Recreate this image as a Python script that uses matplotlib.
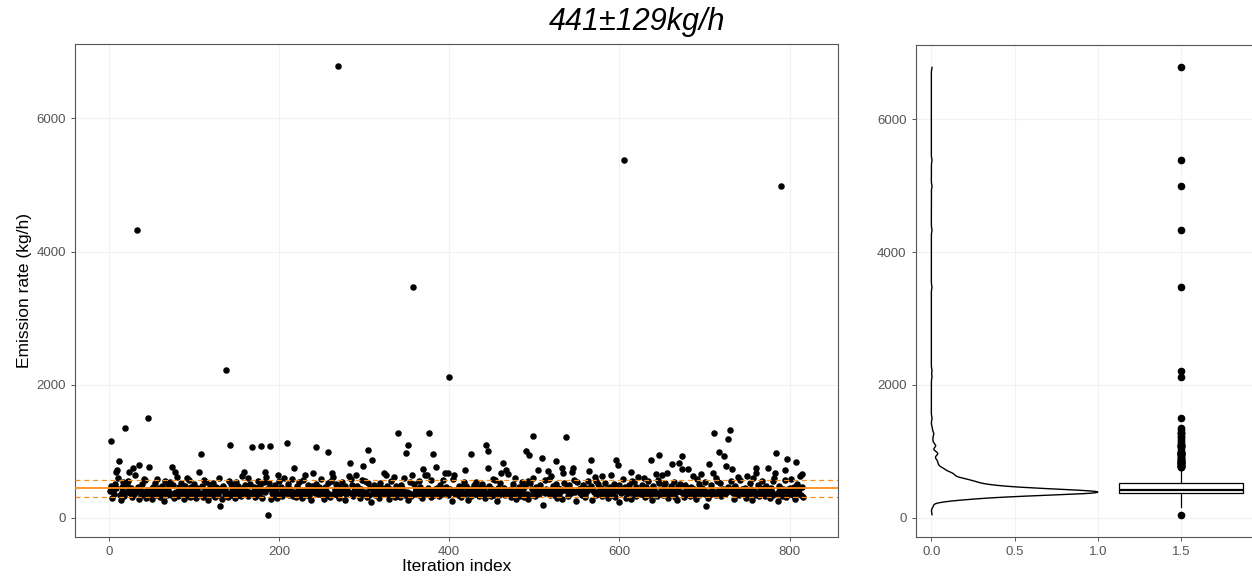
import numpy as np
import matplotlib
matplotlib.use('Agg')
import matplotlib.pyplot as plt

plt.rcParams['font.family'] = ['Liberation Sans', 'DejaVu Sans']

# bulk of the emission-rate samples (kg/h), one per iteration
base = [
    402, 336, 471, 298, 425, 361, 512, 388, 447, 374, 604, 415, 349, 263, 458, 391, 531, 327, 566, 382, 487, 409, 552, 308,
    379, 443, 315, 497, 356, 418, 640, 392, 331, 463, 371, 276, 429, 345, 508, 386, 583, 367, 562, 304, 411, 478, 395, 352,
    433, 358, 289, 466, 383, 521, 404, 341, 587, 376, 449, 312, 398, 485, 364, 427, 245, 548, 391, 338, 502, 419, 373, 541,
    347, 412, 492, 369, 299, 440, 385, 616, 326, 461, 397, 355, 527, 420, 378, 283, 474, 405, 343, 592, 389, 568, 317, 436,
    462, 381, 332, 507, 414, 366, 295, 445, 393, 659, 351, 428, 480, 374, 320, 571, 401, 545, 359, 271, 416, 387, 498, 340,
    390, 519, 357, 426, 307, 469, 382, 339, 594, 408, 365, 447, 278, 483, 396, 352, 431, 575, 371, 313, 556, 403, 344, 510,
    421, 368, 452, 290, 399, 536, 346, 476, 384, 414, 325, 627, 372, 441, 259, 491, 407, 361, 602, 334, 394, 515, 378, 438,
    354, 470, 397, 318, 444, 380, 558, 423, 341, 489, 367, 301, 410, 545, 385, 682, 333, 429, 362, 524, 395, 281, 448, 376,
    413, 345, 486, 370, 432, 297, 402, 547, 358, 463, 388, 322, 419, 601, 375, 440, 251, 395, 504, 349, 427, 383, 578, 330,
    386, 449, 363, 311, 478, 405, 350, 533, 424, 377, 292, 561, 398, 641, 342, 416, 369, 495, 328, 439, 391, 270, 472, 408,
    443, 373, 319, 501, 392, 356, 460, 413, 587, 338, 425, 381, 286, 468, 401, 347, 517, 435, 365, 310, 549, 389, 613, 360,
    371, 428, 503, 349, 396, 458, 303, 419, 366, 542, 387, 434, 266, 473, 354, 411, 390, 629, 337, 588, 380, 490, 323, 405,
    457, 392, 340, 481, 368, 420, 294, 438, 378, 566, 409, 352, 553, 387, 316, 528, 399, 343, 445, 240, 415, 372, 497, 433,
    339, 416, 370, 459, 305, 402, 525, 383, 448, 357, 671, 395, 424, 334, 479, 364, 279, 437, 410, 553, 351, 390, 607, 320,
    398, 476, 353, 427, 382, 314, 493, 441, 369, 409, 598, 345, 455, 391, 262, 417, 376, 538, 330, 544, 403, 358, 511, 385,
    430, 361, 402, 549, 337, 470, 393, 299, 421, 378, 485, 413, 351, 636, 444, 366, 405, 312, 569, 388, 520, 342, 426, 274,
    367, 451, 384, 326, 496, 410, 359, 437, 572, 394, 302, 468, 375, 418, 348, 506, 432, 381, 255, 586, 399, 609, 363, 423,
    408, 344, 472, 389, 431, 308, 461, 370, 534, 415, 356, 484, 396, 267, 440, 373, 653, 329, 426, 392, 499, 361, 541, 383,
    374, 435, 321, 463, 400, 356, 512, 388, 445, 291, 417, 377, 561, 343, 471, 406, 333, 429, 384, 581, 350, 574, 395, 246,
    451, 386, 347, 520, 412, 370, 296, 448, 398, 339, 475, 425, 662, 365, 403, 318, 439, 381, 508, 354, 596, 393, 277, 419,
    388, 460, 335, 414, 377, 543, 427, 306, 484, 401, 362, 552, 284, 395, 528, 346, 436, 372, 597, 411, 325, 469, 389, 353,
    424, 357, 491, 396, 442, 315, 405, 368, 571, 433, 381, 264, 580, 348, 417, 623, 390, 476, 336, 422, 379, 509, 300, 444,
    362, 438, 402, 289, 467, 376, 520, 415, 351, 454, 393, 331, 488, 428, 371, 687, 409, 344, 563, 385, 257, 532, 398, 431,
    409, 378, 455, 337, 494, 420, 363, 309, 441, 397, 558, 384, 432, 355, 475, 268, 416, 390, 606, 342, 547, 372, 512, 401,
    383, 446, 322, 472, 404, 359, 530, 391, 437, 297, 419, 366, 464, 645, 348, 428, 386, 503, 313, 590, 399, 374, 243, 488,
    436, 367, 410, 585, 341, 459, 392, 303, 426, 380, 499, 414, 355, 282, 558, 371, 536, 401, 334, 468, 388, 617, 358, 421,
    352, 429, 496, 375, 418, 311, 463, 396, 343, 548, 407, 382, 439, 272, 477, 364, 424, 389, 660, 327, 575, 400, 516, 369,
    417, 383, 339, 458, 395, 526, 366, 436, 294, 412, 354, 481, 403, 578, 377, 543, 320, 430, 391, 261, 469, 350, 504, 386,
    393, 454, 373, 317, 486, 421, 360, 441, 565, 384, 330, 470, 408, 633, 346, 427, 399, 287, 584, 378, 513, 336, 434, 404,
    443, 369, 412, 539, 351, 476, 387, 304, 449, 395, 361, 497, 422, 253, 438, 375, 592, 341, 551, 406, 383, 523, 329, 415,
    376, 433, 500, 357, 424, 385, 315, 467, 402, 344, 551, 420, 368, 446, 280, 482, 397, 363, 620, 411, 338, 567, 389, 429,
    425, 362, 448, 391, 301, 473, 408, 354, 518, 436, 373, 270, 598, 396, 345, 675, 417, 380, 489, 332, 443, 401, 560, 367,
    389, 441, 335, 480, 403, 369, 527, 418, 296, 452, 381, 344, 554, 599, 392, 426, 358, 248, 473, 410, 377, 506, 323, 437,
    400, 572, 372, 318, 491, 427, 355, 442, 579, 386, 409, 337, 470, 284, 416, 365, 514, 393, 432, 628, 348, 459, 381, 307,
]

# iterations that stand out from the band (index, value)
spike_idx = [2, 8, 10, 12, 19, 24, 28, 33, 35, 46, 47, 74, 78, 106, 108, 131, 138, 142, 159, 168,
             179, 185, 187, 189, 199, 209, 218, 240, 243, 258, 262, 269, 283, 291, 299, 305, 309, 326, 340, 349,
             352, 356, 357, 369, 371, 376, 381, 384, 395, 398, 400, 406, 418, 425, 443, 445, 446, 461, 463, 467,
             490, 494, 498, 504, 509, 510, 516, 525, 533, 534, 537, 546, 564, 566, 580, 596, 598, 605, 613, 629,
             637, 646, 650, 656, 662, 670, 673, 674, 681, 696, 702, 705, 710, 711, 717, 723, 725, 727, 730, 732,
             750, 761, 775, 783, 784, 790, 795, 797, 807, 815]
spike_val = [1150, 695, 720, 860, 1356, 695, 746, 4330, 796, 1497, 770, 770, 695, 695, 956, 170, 2215, 1096, 695, 1070,
             1081, 620, 48, 1081, 646, 1131, 746, 671, 1061, 981, 671, 6780, 821, 646, 781, 1021, 871, 646, 1271, 971,
             1096, 646, 3470, 731, 646, 1271, 961, 770, 671, 671, 2122, 646, 721, 961, 1096, 746, 996, 671, 821, 721,
             996, 946, 1236, 711, 896, 195, 696, 846, 746, 671, 1211, 746, 696, 861, 621, 871, 796, 5380, 695, 596,
             861, 946, 646, 671, 811, 821, 921, 731, 731, 656, 175, 811, 671, 1271, 981, 921, 781, 1182, 1321, 731,
             621, 746, 746, 671, 976, 4990, 721, 885, 835, 661]

mean_rate = 441
sd_rate = 129

values = np.array(base, dtype=float)
values[np.array(spike_idx) - 1] = spike_val
iters = np.arange(1, len(values) + 1)

fig = plt.figure(figsize=(12.52, 5.81), dpi=100)
ax1 = fig.add_axes([0.0599, 0.0757, 0.6094, 0.8485])
ax2 = fig.add_axes([0.7314, 0.0757, 0.2742, 0.8468])

lo, hi = values.min(), values.max()
ylim = (lo - 0.05 * (hi - lo), hi + 0.05 * (hi - lo))
n = len(values)

for ax in (ax1, ax2):
    ax.set_axisbelow(True)
    ax.grid(True, color='#f2f2f2', lw=0.8)
    for s in ax.spines.values():
        s.set_color('#555555')
        s.set_linewidth(0.8)
    ax.tick_params(colors='#555555', labelcolor='#555555', labelsize=9.5, length=3, width=0.7)
    ax.set_ylim(ylim)
    ax.set_yticks([0, 2000, 4000, 6000])

ax1.scatter(iters, values, s=22, color='black', linewidths=0, zorder=2)
ax1.axhline(mean_rate, color='#ff8c1a', lw=1.3, zorder=3)
ax1.axhline(mean_rate - sd_rate, color='#ff8c1a', lw=0.9, ls=(0, (4, 3)), zorder=3)
ax1.axhline(mean_rate + sd_rate, color='#ff8c1a', lw=0.9, ls=(0, (4, 3)), zorder=3)
ax1.set_xlim(1 - 0.05 * (n - 1), n + 0.05 * (n - 1))
ax1.set_xticks([0, 200, 400, 600, 800])
ax1.set_xlabel('Iteration index', fontsize=12.5, labelpad=1)
ax1.set_ylabel('Emission rate (kg/h)', fontsize=12.5, labelpad=3)

# scaled density (R nrd0 bandwidth), trimmed to data range
q1, q3 = np.percentile(values, [25, 75])
bw = 0.9 * min(values.std(ddof=1), (q3 - q1) / 1.34) * n ** -0.2
grid = np.linspace(lo, hi, 1024)
dens = np.exp(-0.5 * ((grid[:, None] - values[None, :]) / bw) ** 2).sum(axis=1)
dens = dens / dens.max()
ax2.plot(dens, grid, color='black', lw=1.0)

ax2.boxplot(values, positions=[1.5], widths=0.75, whis=1.5, patch_artist=True,
            boxprops=dict(facecolor='white', edgecolor='black', lw=0.9),
            medianprops=dict(color='black', lw=1.6),
            whiskerprops=dict(color='black', lw=0.9),
            capprops=dict(lw=0),
            flierprops=dict(marker='o', markerfacecolor='black', markeredgecolor='black', markersize=4.5))
ax2.set_xlim(-0.094, 1.969)
ax2.set_xticks([0.0, 0.5, 1.0, 1.5])
ax2.set_xticklabels(['0.0', '0.5', '1.0', '1.5'])

fig.text(0.509, 0.962, '441±129kg/h', ha='center', va='center', fontsize=22, style='italic')

fig.savefig('out.png', dpi=100)
